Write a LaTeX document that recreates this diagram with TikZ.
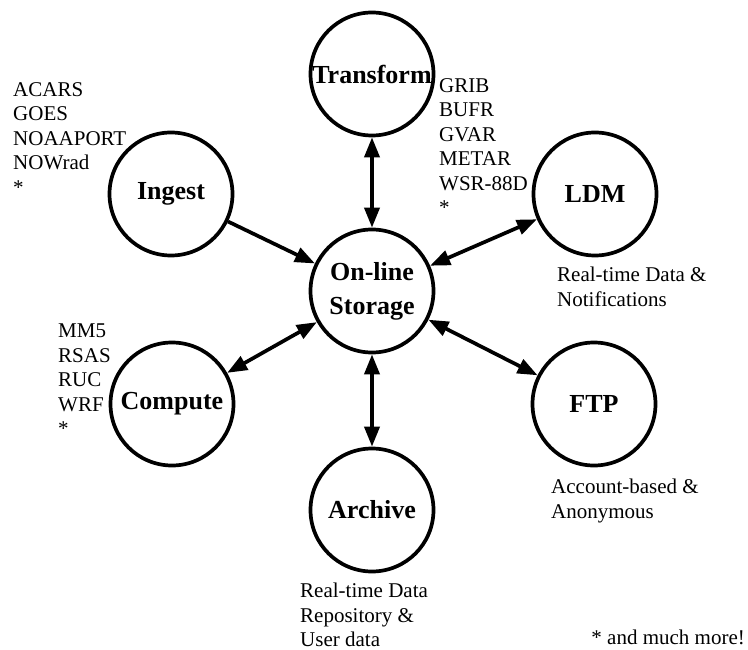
\documentclass[tikz,border=0pt]{standalone}
\usepackage{fontspec}
\setmainfont{Liberation Serif}
\usetikzlibrary{arrows.meta}
\begin{document}
\begin{tikzpicture}[x=1pt,y=-1pt,
  hub/.style={circle,draw,line width=3.7pt,minimum size=123pt,inner sep=0pt,
    font=\fontsize{26}{34}\selectfont\bfseries,align=center},
  note/.style={anchor=north west,inner sep=0pt,align=left,
    font=\fontsize{21}{24.5}\selectfont},
  tip/.tip={Triangle[length=20pt,width=15pt]},
  link/.style={line width=3.7pt,tip-tip},
  oneway/.style={line width=3.7pt,-tip}
]
\useasboundingbox (0,0) rectangle (748,650);
\node[hub] (st) at (372,291) {On-line\\Storage};
\node[hub] (tr) at (372,74) {Transform};
\node[hub] (in) at (171,194) {Ingest};
\node[hub] (ld) at (595,194) {LDM};
\node[hub] (co) at (172,404) {Compute};
\node[hub] (ft) at (594,404) {FTP};
\node[hub] (ar) at (372,510) {Archive};

\draw[link] (tr) -- (st);
\draw[oneway] (in) -- (st);
\draw[link] (ld) -- (st);
\draw[link] (co) -- (st);
\draw[link] (ft) -- (st);
\draw[link] (ar) -- (st);

\node[note] (inl) at (13,82) {ACARS\\GOES\\NOAAPORT\\NOWrad\\*};
\node[note] (trl) at (439,78) {GRIB\\BUFR\\GVAR\\METAR\\WSR-88D\\*};
\node[note] (ldl) at (557,267) {Real-time Data \&\\Notifications};
\node[note] (col) at (58,324) {MM5\\RSAS\\RUC\\WRF\\*};
\node[note] (ftl) at (551,479) {Account-based \&\\Anonymous};
\node[note] (arl) at (300,583) {Real-time Data\\Repository \&\\User data};
\node[anchor=base east,inner sep=0pt,font=\fontsize{21}{24.5}\selectfont] (more) at (745,644) {* and much more!};
\end{tikzpicture}
\end{document}
